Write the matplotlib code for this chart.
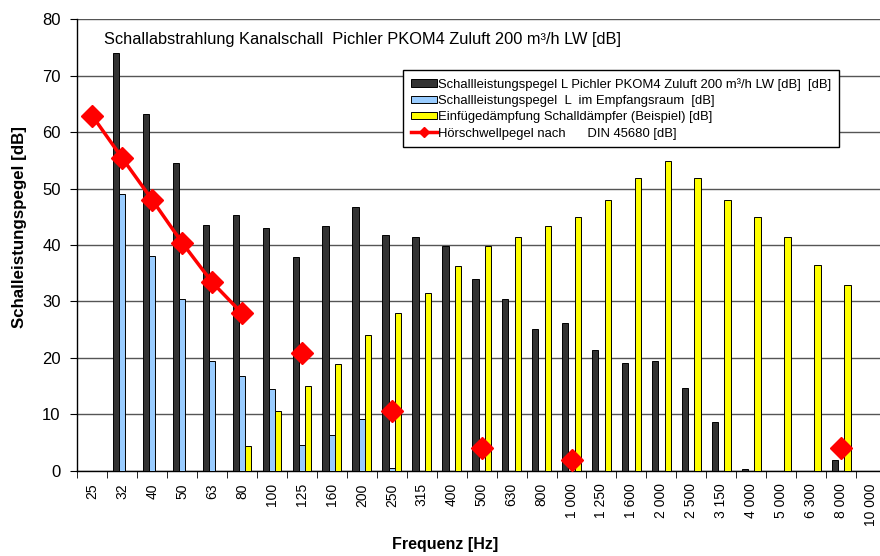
import numpy as np
import matplotlib
matplotlib.use("Agg")
import matplotlib.pyplot as plt
from matplotlib.ticker import FixedLocator

plt.rcParams['font.family'] = ['Liberation Sans', 'DejaVu Sans']

categories = ["25", "32", "40", "50", "63", "80", "100", "125", "160", "200", "250", "315",
              "400", "500", "630", "800", "1 000", "1 250", "1 600", "2 000", "2 500",
              "3 150", "4 000", "5 000", "6 300", "8 000", "10 000"]
nan = np.nan
lw_pichler = [nan, 74.0, 63.3, 54.6, 43.6, 45.3, 43.1, 37.8, 43.4, 46.7, 41.7, 41.4, 39.9,
              33.9, 30.4, 25.2, 26.1, 21.4, 19.0, 19.5, 14.6, 8.7, 0.35, nan, nan, 1.9, nan]
lw_raum = [nan, 49.0, 38.0, 30.4, 19.5, 16.7, 14.4, 4.55, 6.3, 9.2, 0.4,
           nan, nan, nan, nan, nan, nan, nan, nan, nan, nan, nan, nan, nan, nan, nan, nan]
daempfung = [nan, nan, nan, nan, nan, 4.4, 10.6, 15.0, 18.9, 24.0, 27.9, 31.5, 36.3, 39.9,
             41.4, 43.4, 44.9, 48.0, 51.8, 54.9, 51.8, 48.0, 44.9, 41.4, 36.5, 32.9, nan]
hoerschwelle = [62.9, 55.4, 48.0, 40.4, 33.4, 27.9, nan, 20.9, nan, nan, 10.6, nan, nan, 4.0,
                nan, nan, 1.9, nan, nan, nan, nan, nan, nan, nan, nan, 4.0, nan]

labels = ["Schallleistungspegel L Pichler PKOM4 Zuluft 200 m³/h LW [dB]  [dB]",
          "Schallleistungspegel  L  im Empfangsraum  [dB]",
          "Einfügedämpfung Schalldämpfer (Beispiel) [dB]",
          "Hörschwellpegel nach      DIN 45680 [dB]"]

W, H = 880, 556
fig = plt.figure(figsize=(W / 100, H / 100), dpi=100)
ax = fig.add_axes([77.3 / W, 1 - 470.7 / H, (886 - 77.3) / W, (470.7 - 19.3) / H])

x = np.arange(len(categories))
bw = 0.21
b1 = ax.bar(x - bw, lw_pichler, width=bw, color='#333333', edgecolor='black', linewidth=0.7,
            zorder=3)
b2 = ax.bar(x, lw_raum, width=bw, color='#99CCFF', edgecolor='black', linewidth=0.7,
            zorder=3)
b3 = ax.bar(x + bw, daempfung, width=bw, color='#FFFF00', edgecolor='black', linewidth=0.7,
            zorder=3)
l1, = ax.plot(x, hoerschwelle, color='red', linewidth=2.5, marker='D', markersize=11,
              markeredgecolor='red', zorder=4)

ax.set_xlim(-0.5, len(categories) - 0.5)
ax.set_ylim(0, 80)
ax.set_yticks(np.arange(0, 81, 10))
ax.tick_params(axis='y', labelsize=12, length=5, direction='out', pad=7)
ax.grid(axis='y', color='#555555', linewidth=1, zorder=0)
ax.set_axisbelow(True)

ax.set_xticks(x)
ax.set_xticklabels(categories, rotation=90, fontsize=10, va='top', ha='center')
ax.tick_params(axis='x', which='major', length=0, pad=9)
ax.xaxis.set_minor_locator(FixedLocator(np.arange(-0.5, len(categories), 1.0)))
ax.tick_params(axis='x', which='minor', length=5, direction='out')

for s in ['top', 'right']:
    ax.spines[s].set_visible(False)
for s in ['left', 'bottom']:
    ax.spines[s].set_color('black')
    ax.spines[s].set_linewidth(1)

ax.text((104 - 77.3) / (886 - 77.3), (470.7 - 43.5) / 451.4,
        "Schallabstrahlung Kanalschall  Pichler PKOM4 Zuluft 200 m³/h LW [dB]",
        transform=ax.transAxes, fontsize=11.8, va='baseline', ha='left')

fig.text(445 / W, 1 - 545 / H, "Frequenz [Hz]", fontsize=11.5, fontweight='bold',
         ha='center', va='center')
fig.text(20 / W, 1 - 227 / H, "Schalleistungspegel [dB]", fontsize=12.2, fontweight='bold',
         ha='center', va='center', rotation=90)

leg = ax.legend([b1, b2, b3, l1], labels, loc='upper left', bbox_to_anchor=(0.4028, 0.8877),
                borderaxespad=0, fontsize=9.4, frameon=True, fancybox=False, shadow=False,
                edgecolor='black', framealpha=1, handlelength=2.0, handleheight=0.45,
                handletextpad=0.1, labelspacing=0.33, borderpad=0.6)
leg.get_frame().set_linewidth(1)
leg.legend_handles[3].set_markersize(5)

fig.savefig("out.png", dpi=100)
